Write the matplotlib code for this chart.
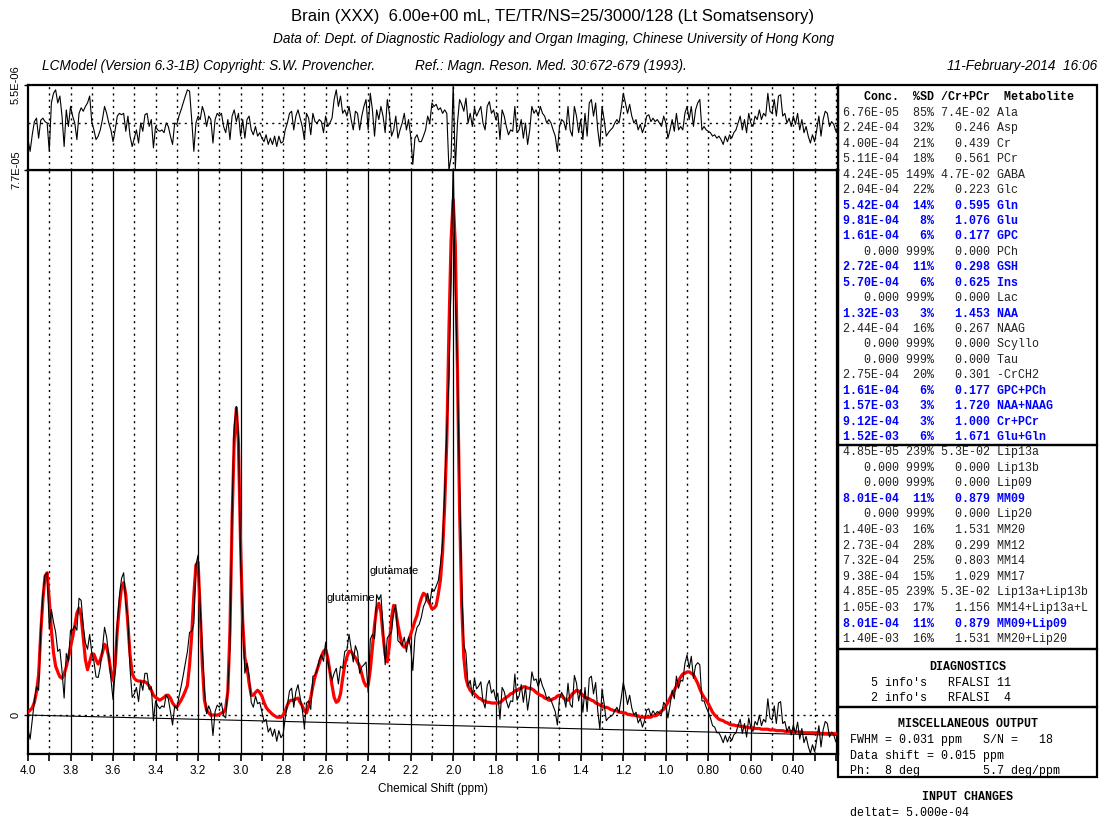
import numpy as np
import matplotlib
matplotlib.use("Agg")
import matplotlib.pyplot as plt
from matplotlib.patches import Rectangle

# spectrum sampled every 0.01 ppm from 4.00 down to 0.19 (values in units of 1E-06)
ppm = np.linspace(4.00, 0.19, 382)

fit_e6 = [
    0.4, 0.7, 1.0, 1.8, 3.3, 5.7, 11.6, 16.3, 19.6, 20.1,
    16.3, 12.0, 8.8, 6.9, 6.1, 5.4, 5.2, 5.8, 6.8, 8.1,
    9.6, 11.0, 12.6, 14.4, 15.1, 14.0, 10.9, 7.8, 6.4, 7.5,
    8.6, 8.6, 7.8, 7.2, 7.8, 8.8, 10.0, 9.6, 8.2, 6.1,
    4.9, 7.1, 12.0, 15.4, 18.1, 18.7, 17.0, 12.7, 8.5, 5.9,
    5.2, 4.9, 4.8, 4.8, 4.7, 4.7, 4.5, 4.1, 3.5, 2.8,
    2.5, 2.3, 2.1, 2.3, 2.5, 2.8, 2.8, 2.4, 1.7, 1.3,
    1.1, 1.6, 2.1, 2.7, 3.4, 4.2, 7.1, 11.3, 17.0, 21.2,
    21.6, 14.8, 7.1, 2.1, 0.7, 0.3, 0.0, 0.0, 0.0, 0.0,
    0.1, 0.3, 0.4, 1.0, 3.3, 12.0, 27.6, 38.9, 43.4, 38.2,
    24.0, 13.1, 8.1, 6.8, 4.5, 2.8, 2.8, 3.2, 3.5, 3.2,
    2.7, 1.8, 1.1, 0.7, 0.4, 0.1, -0.1, -0.3, -0.3, -0.3,
    0.0, 0.6, 1.4, 2.0, 2.1, 2.1, 2.3, 2.4, 1.8, 1.3,
    0.6, 0.3, 1.3, 2.5, 4.1, 5.4, 6.4, 7.3, 8.3, 9.0,
    9.3, 8.1, 6.1, 4.2, 2.5, 1.8, 2.0, 3.0, 5.2, 7.1,
    8.2, 9.0, 9.0, 8.5, 8.1, 7.5, 6.9, 5.8, 4.7, 4.1,
    4.2, 6.4, 9.5, 12.7, 15.1, 15.8, 14.6, 11.3, 8.5, 7.5,
    9.9, 13.7, 15.5, 14.6, 12.7, 11.2, 9.9, 9.6, 9.9, 10.5,
    11.4, 12.3, 13.3, 14.1, 15.5, 16.5, 17.2, 17.0, 16.2, 15.7,
    15.0, 15.1, 15.5, 17.1, 19.1, 23.0, 29.7, 38.9, 54.4, 67.1,
    72.8, 66.4, 48.8, 29.0, 15.5, 8.1, 5.2, 4.1, 3.5, 3.2,
    3.0, 2.7, 2.4, 2.3, 2.0, 2.0, 1.8, 1.8, 1.7, 1.7,
    1.7, 1.7, 1.8, 2.0, 2.3, 2.5, 2.7, 3.0, 3.1, 3.4,
    3.5, 3.7, 3.8, 4.0, 4.0, 3.8, 3.8, 3.7, 3.5, 3.2,
    3.0, 2.8, 2.7, 2.4, 2.3, 2.1, 2.1, 2.3, 2.4, 2.7,
    2.8, 2.7, 2.4, 2.1, 2.1, 2.5, 3.0, 3.2, 3.5, 3.4,
    3.1, 2.8, 2.5, 2.4, 2.3, 2.1, 2.0, 1.7, 1.6, 1.4,
    1.3, 1.1, 1.1, 1.0, 0.8, 0.7, 0.6, 0.6, 0.4, 0.4,
    0.3, 0.3, 0.1, 0.1, 0.0, 0.0, -0.1, -0.1, -0.3, -0.3,
    -0.3, -0.3, -0.3, -0.3, -0.1, -0.1, 0.0, 0.3, 0.6, 0.8,
    1.3, 1.8, 2.4, 3.0, 3.5, 4.1, 4.8, 5.4, 5.8, 5.9,
    6.1, 6.1, 5.9, 5.7, 5.1, 4.5, 3.7, 3.0, 2.5, 2.1,
    1.6, 1.0, 0.4, 0.0, -0.3, -0.6, -0.7, -0.8, -1.0, -1.1,
    -1.3, -1.4, -1.4, -1.5, -1.5, -1.6, -1.6, -1.7, -1.7, -1.8,
    -1.8, -1.8, -1.9, -1.9, -1.9, -2.0, -2.0, -2.0, -2.0, -2.1,
    -2.1, -2.1, -2.2, -2.2, -2.2, -2.2, -2.3, -2.3, -2.3, -2.3,
    -2.4, -2.4, -2.4, -2.4, -2.4, -2.5, -2.5, -2.5, -2.5, -2.5,
    -2.5, -2.5, -2.5, -2.6, -2.6, -2.6, -2.6, -2.6, -2.6, -2.6,
    -2.6, -2.6,
]

resid_e6 = [
    -2.4, -4.1, -1.7, 0.2, 0.7, -2.2, 0.4, 0.7, 0.2, 0.0,
    -4.1, 2.9, 4.3, 4.8, 2.9, 3.9, 1.0, -3.4, 1.9, -0.5,
    2.4, 1.0, 0.0, -2.4, 1.4, 2.2, 1.7, 2.4, 2.9, 3.9,
    0.2, -1.0, -2.4, -1.9, -1.0, 0.5, 2.4, 1.4, 0.0, -1.0,
    -2.7, -1.0, 1.0, 1.4, 1.2, 1.4, -1.2, 1.0, -1.9, -3.4,
    -2.2, -1.0, -2.9, 0.0, -1.2, 1.2, 1.4, -0.5, 0.5, -3.6,
    -0.5, -1.0, -1.2, -1.0, -1.4, 0.0, -0.5, -1.9, -3.1, 0.0,
    -0.2, 1.0, 1.9, 2.9, 3.9, 4.8, 4.6, 0.5, -4.1, 0.0,
    1.0, 0.5, 2.4, 1.4, -0.5, 1.0, 0.5, -2.9, 0.5, 1.4,
    1.0, 1.4, -0.5, -1.4, 0.5, -2.4, 1.0, 1.9, 0.2, 1.4,
    -1.9, 0.5, -2.2, 0.5, 1.0, -1.0, -1.7, -0.5, -1.9, -1.4,
    -2.2, -2.7, -1.7, -3.1, -2.2, -3.1, -1.9, -3.4, -1.9, -2.9,
    -2.7, -1.0, 0.0, 1.4, 1.7, -1.0, 1.0, 1.9, 0.7, -0.5,
    -2.4, 1.4, 0.7, -1.7, 1.4, 0.2, 0.0, 0.5, 0.2, -1.4,
    1.0, -0.5, 0.0, 0.7, 3.4, 4.8, 2.4, 3.9, 1.4, 1.9,
    1.0, 2.4, 0.5, -1.0, 1.7, 1.4, -1.0, 1.0, 2.4, 3.4,
    -1.0, 4.3, 1.9, -1.9, 1.9, 0.5, 2.4, 1.0, -1.4, 3.4,
    1.4, -1.9, -1.0, 1.0, -2.2, -1.0, 0.0, 1.4, -1.0, 0.5,
    -1.9, -6.0, -2.2, -1.7, -2.7, -2.7, -1.9, -1.0, 1.0, 0.0,
    2.9, 2.4, 2.7, 1.9, 2.2, 1.4, 1.9, 1.4, -6.8, -5.0,
    5.6, -6.6, 0.0, 3.4, 2.7, 1.7, 3.6, 0.0, 1.4, -0.5,
    2.2, 1.0, 1.7, 2.4, 0.0, -1.0, 2.4, 3.1, 1.4, 1.9,
    0.5, 1.4, -2.4, 1.9, 1.0, -0.5, -1.7, -1.0, -1.2, 2.4,
    -1.4, -1.0, 0.5, -2.2, 0.0, -3.1, -1.0, 2.4, 1.4, 1.9,
    1.0, 2.4, 1.4, 1.0, 0.0, 0.5, 0.0, -1.0, -1.9, -4.1,
    -0.5, 0.5, 0.2, -1.0, 2.4, -1.0, -1.9, 2.4, 1.0, -1.4,
    0.5, -2.4, 1.4, -1.9, 2.9, 3.4, 1.0, 2.9, -1.0, -3.4,
    2.4, 0.5, -1.9, -1.4, -1.0, -0.7, 0.0, 0.5, 0.0, 1.9,
    4.3, 2.9, 1.4, 2.7, 1.0, 0.0, 0.5, -1.0, -0.2, -1.4,
    -0.5, 1.0, 1.2, 0.2, 0.7, 0.2, 0.5, 0.0, -0.5, 1.0,
    0.0, -2.2, -1.0, 0.5, -1.2, 1.4, -1.0, -0.5, -1.0, 1.4,
    2.4, 0.5, 2.4, -0.5, 1.9, 2.9, 3.4, -1.0, -0.5, -1.0,
    -1.2, -1.4, -1.9, -1.7, -2.2, -1.9, -2.4, -3.1, -1.9, -2.7,
    -1.7, -2.2, -1.4, -1.0, 0.0, 1.0, -1.0, 0.5, -1.4, 1.4,
    0.0, -0.5, 1.0, 0.5, 1.9, 0.5, 1.4, 1.0, 4.3, 1.7,
    1.4, 3.4, 1.0, 3.9, 4.1, 1.0, 1.4, 0.0, 0.7, -0.5,
    1.0, -0.2, 1.4, -1.0, 0.5, -1.4, -0.5, -1.9, -2.9, -1.7,
    -2.7, -1.0, 1.0, -1.9, 0.5, 1.7, 1.4, -0.5, 0.2, -0.2,
    -1.2, -0.5,
]

baseline_ppm = [4.00, 0.19]
baseline_e6 = [0.0, -2.85]

fit = np.array(fit_e6) * 1e-6
resid = np.array(resid_e6) * 1e-6
data = fit + resid
baseline = np.array(baseline_e6) * 1e-6

xtick_vals = [4.0, 3.8, 3.6, 3.4, 3.2, 3.0, 2.8, 2.6, 2.4, 2.2, 2.0,
              1.8, 1.6, 1.4, 1.2, 1.0, 0.8, 0.6, 0.4]
xtick_text = ["4.0", "3.8", "3.6", "3.4", "3.2", "3.0", "2.8", "2.6", "2.4", "2.2", "2.0",
              "1.8", "1.6", "1.4", "1.2", "1.0", "0.80", "0.60", "0.40"]

# concentration table
met_conc = ["6.76E-05", "2.24E-04", "4.00E-04", "5.11E-04", "4.24E-05", "2.04E-04",
            "5.42E-04", "9.81E-04", "1.61E-04", "0.000", "2.72E-04", "5.70E-04",
            "0.000", "1.32E-03", "2.44E-04", "0.000", "0.000", "2.75E-04",
            "1.61E-04", "1.57E-03", "9.12E-04", "1.52E-03"]
met_sd = [85, 32, 21, 18, 149, 22, 14, 8, 6, 999, 11, 6, 999, 3, 16, 999, 999, 20, 6, 3, 3, 6]
met_ratio = ["7.4E-02", "0.246", "0.439", "0.561", "4.7E-02", "0.223", "0.595", "1.076",
             "0.177", "0.000", "0.298", "0.625", "0.000", "1.453", "0.267", "0.000",
             "0.000", "0.301", "0.177", "1.720", "1.000", "1.671"]
met_names = ["Ala", "Asp", "Cr", "PCr", "GABA", "Glc", "Gln", "Glu", "GPC", "PCh", "GSH",
             "Ins", "Lac", "NAA", "NAAG", "Scyllo", "Tau", "-CrCH2", "GPC+PCh",
             "NAA+NAAG", "Cr+PCr", "Glu+Gln"]

lip_conc = ["4.85E-05", "0.000", "0.000", "8.01E-04", "0.000", "1.40E-03", "2.73E-04",
            "7.32E-04", "9.38E-04", "4.85E-05", "1.05E-03", "8.01E-04", "1.40E-03"]
lip_sd = [239, 999, 999, 11, 999, 16, 28, 25, 15, 239, 17, 11, 16]
lip_ratio = ["5.3E-02", "0.000", "0.000", "0.879", "0.000", "1.531", "0.299", "0.803",
             "1.029", "5.3E-02", "1.156", "0.879", "1.531"]
lip_names = ["Lip13a", "Lip13b", "Lip09", "MM09", "Lip20", "MM20", "MM12", "MM14", "MM17",
             "Lip13a+Lip13b", "MM14+Lip13a+L", "MM09+Lip09", "MM20+Lip20"]

W, H = 1101, 818
fig = plt.figure(figsize=(W / 100, H / 100), dpi=100)
SANS = "Liberation Sans"
MONO = "Liberation Mono"


def px_axes(left, top, right, bottom):
    return fig.add_axes([left / W, 1 - bottom / H, (right - left) / W, (bottom - top) / H])


def ftext(x, y, s, **kw):
    fig.text(x / W, 1 - y / H, s, **kw)


ax = px_axes(28, 170, 838, 754)
axr = px_axes(28, 85, 838, 170)

tenths = np.round(np.arange(0.2, 4.0, 0.1), 1)
for t in tenths:
    even = abs(round(t * 10)) % 2 == 0
    if even:
        ax.axvline(t, color="black", lw=0.9, zorder=1)
    else:
        ax.axvline(t, color="black", lw=1.0, ls=(0, (1.5, 3)), zorder=1)
    axr.axvline(t, color="black", lw=1.0, ls=(0, (1.5, 3)), zorder=1)
ax.axhline(0, color="black", lw=1.0, ls=(0, (1.5, 3)), zorder=1)
axr.axhline(0, color="black", lw=1.0, ls=(0, (1.5, 3)), zorder=1)

ax.plot(baseline_ppm, baseline, color="black", lw=0.8, zorder=2)
ax.plot(ppm, fit, color="red", lw=2.3, zorder=3)
ax.plot(ppm, data, color="black", lw=0.8, zorder=4)
axr.plot(ppm, resid, color="black", lw=0.8, zorder=4)

ax.set_xlim(4.0, 0.19)
ax.set_ylim(-5.5e-6, 7.7e-5)
axr.set_xlim(4.0, 0.19)
axr.set_ylim(-6.8e-6, 5.5e-6)

ax.set_xticks(tenths.tolist() + [4.0])
labels = {v: s for v, s in zip(xtick_vals, xtick_text)}
ax.set_xticklabels([labels.get(round(v, 1), "") for v in tenths.tolist() + [4.0]],
                   fontsize=8.5, family=SANS)
ax.tick_params(axis="x", direction="out", length=5, width=1.2, pad=3)
ax.set_xlabel("Chemical Shift (ppm)", fontsize=8.5, family=SANS, labelpad=4)

ax.set_yticks([0, 7.7e-5])
ax.set_yticklabels(["0", "7.7E-05"], rotation=90, va="center", fontsize=8, family=SANS)
axr.set_yticks([5.5e-6])
axr.set_yticklabels(["5.5E-06"], rotation=90, va="center", fontsize=8, family=SANS)
for a in (ax, axr):
    a.tick_params(axis="y", direction="out", length=3, width=1, pad=2)
    for sp in a.spines.values():
        sp.set_linewidth(1.6)
axr.set_xticks([])

ax.text(2.598, 16.5e-6, "glutamine", fontsize=8, family=SANS, va="center", ha="left", zorder=5)
ax.text(2.395, 20.3e-6, "glutamate", fontsize=8, family=SANS, va="center", ha="left", zorder=5)

# header texts
ftext(553, 17, "Brain (XXX)  6.00e+00 mL, TE/TR/NS=25/3000/128 (Lt Somatsensory)",
      ha="center", va="center", fontsize=12, family=SANS)
ftext(554, 39, "Data of: Dept. of Diagnostic Radiology and Organ Imaging, Chinese University of Hong Kong",
      ha="center", va="center", fontsize=9.8, family=SANS, style="italic")
ftext(42, 66, "LCModel (Version 6.3-1B) Copyright: S.W. Provencher.",
      ha="left", va="center", fontsize=9.8, family=SANS, style="italic")
ftext(415, 66, "Ref.: Magn. Reson. Med. 30:672-679 (1993).",
      ha="left", va="center", fontsize=9.8, family=SANS, style="italic")
ftext(1097, 66, "11-February-2014  16:06",
      ha="right", va="center", fontsize=9.8, family=SANS, style="italic")

# right hand boxes
for top, bottom in [(85, 445), (445, 649), (649, 707), (707, 777)]:
    fig.add_artist(Rectangle((838 / W, 1 - bottom / H), (1097 - 838) / W, (bottom - top) / H,
                             transform=fig.transFigure, fill=False, lw=1.6, color="black"))

MS = 8.4
ftext(843, 97, "   Conc.  %SD /Cr+PCr  Metabolite", ha="left", va="center",
      fontsize=MS, family=MONO, weight="bold")


def row(y, c, s, r, n):
    blue = s < 15
    ftext(843, y, f"{c:>8} {s:>3}% {r:>7} {n}", ha="left", va="center", fontsize=MS,
          family=MONO, weight="bold" if blue else "normal",
          color="#0000ff" if blue else "#222222")


for k in range(len(met_names)):
    row(113 + 15.43 * k, met_conc[k], met_sd[k], met_ratio[k], met_names[k])
for k in range(len(lip_names)):
    row(452 + 15.6 * k, lip_conc[k], lip_sd[k], lip_ratio[k], lip_names[k])

ftext(968, 667, "DIAGNOSTICS", ha="center", va="center", fontsize=MS, family=MONO, weight="bold")
ftext(843, 683, "    5 info's   RFALSI 11", ha="left", va="center", fontsize=MS, family=MONO)
ftext(843, 698, "    2 info's   RFALSI  4", ha="left", va="center", fontsize=MS, family=MONO)
ftext(968, 724, "MISCELLANEOUS OUTPUT", ha="center", va="center", fontsize=MS, family=MONO, weight="bold")
ftext(843, 740, " FWHM = 0.031 ppm   S/N =   18", ha="left", va="center", fontsize=MS, family=MONO)
ftext(843, 756, " Data shift = 0.015 ppm", ha="left", va="center", fontsize=MS, family=MONO)
ftext(843, 771, " Ph:  8 deg         5.7 deg/ppm", ha="left", va="center", fontsize=MS, family=MONO)
ftext(968, 797, "INPUT CHANGES", ha="center", va="center", fontsize=MS, family=MONO, weight="bold")
ftext(843, 813, " deltat= 5.000e-04", ha="left", va="center", fontsize=MS, family=MONO)

fig.savefig("out.png", dpi=100)
